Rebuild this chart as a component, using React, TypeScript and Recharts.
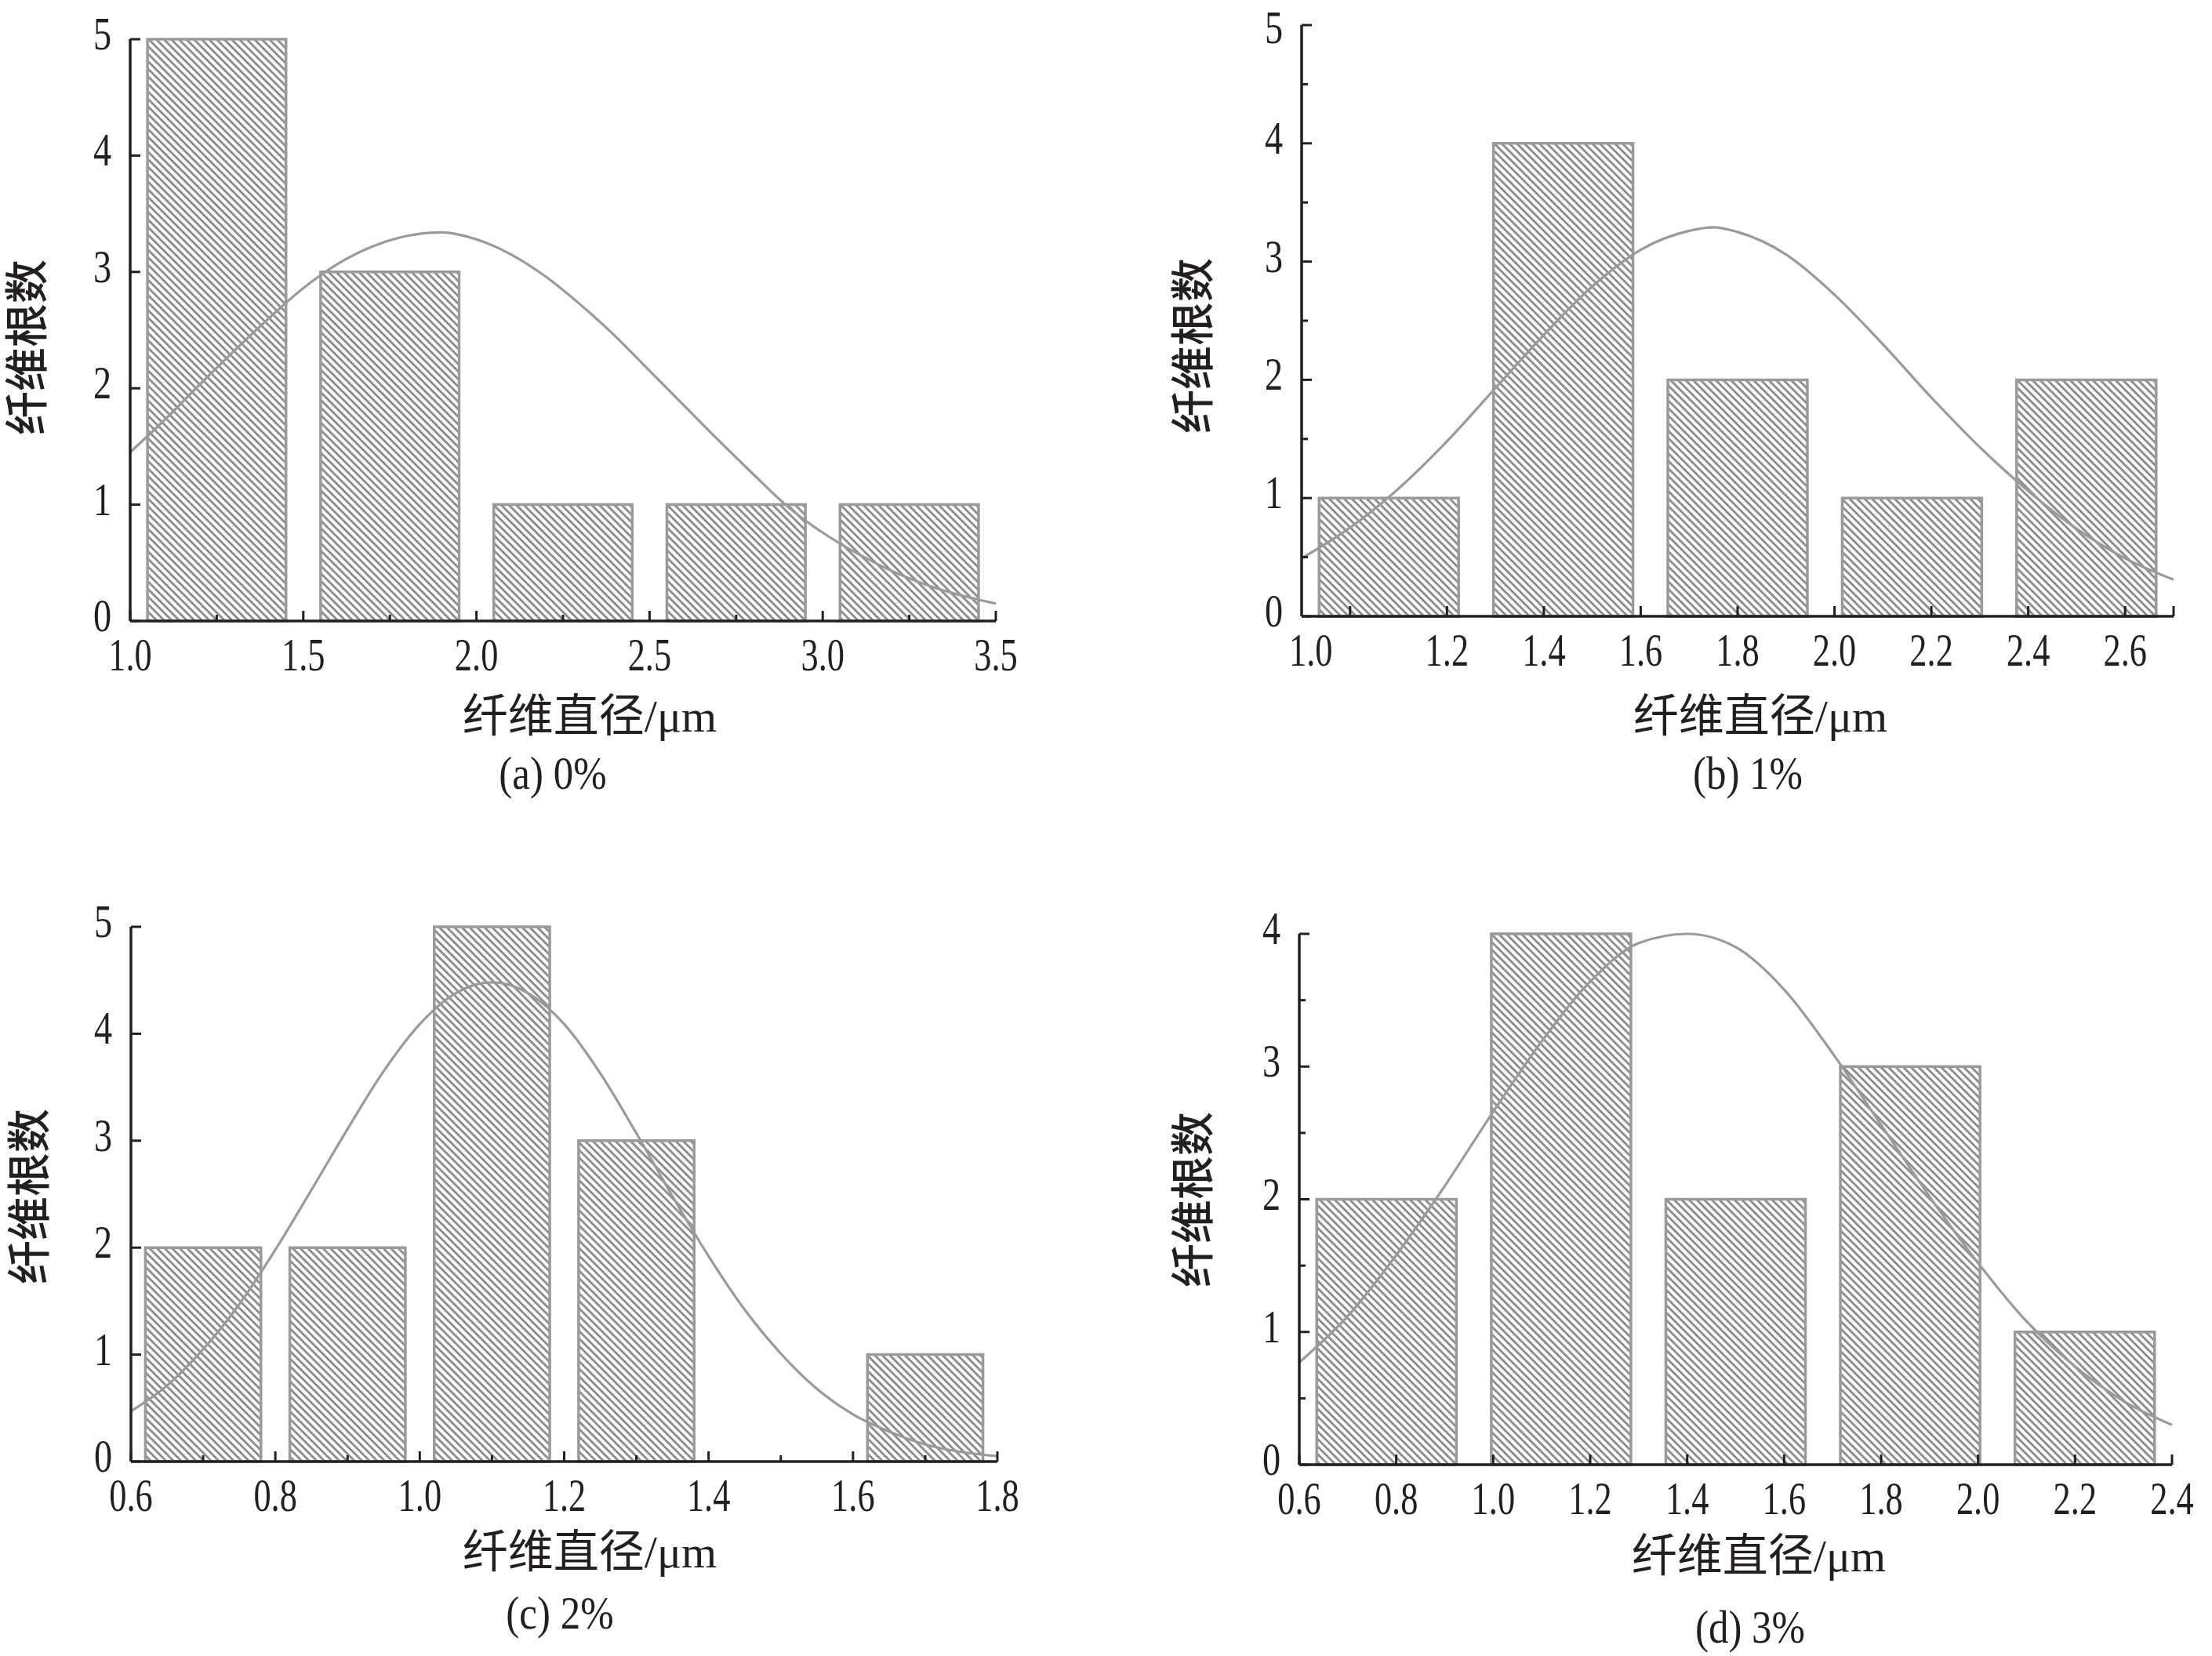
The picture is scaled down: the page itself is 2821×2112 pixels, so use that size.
import React from 'react';
import { ComposedChart, Line, XAxis, YAxis, ReferenceArea } from 'recharts';

// ---- (a) 0% ----
const A_BIN_CENTERS = [1.25, 1.75, 2.25, 2.75, 3.25];
const A_COUNTS = [5, 3, 1, 1, 1];
const A_BIN_WIDTH = 0.5;
const A_CURVE_X = [1.0, 1.1, 1.2, 1.3, 1.4, 1.5, 1.6, 1.7, 1.8, 1.9, 2.0, 2.1, 2.2, 2.3, 2.4, 2.5, 2.6, 2.7, 2.8, 2.9, 3.0, 3.1, 3.2, 3.3, 3.4, 3.5];
const A_CURVE_Y = [1.45, 1.73, 2.03, 2.32, 2.6, 2.86, 3.07, 3.22, 3.31, 3.34, 3.28, 3.15, 2.96, 2.72, 2.45, 2.15, 1.85, 1.55, 1.26, 0.98, 0.76, 0.58, 0.43, 0.31, 0.22, 0.15];
const A_X_MAJOR = [1.0, 1.5, 2.0, 2.5, 3.0, 3.5];
const A_X_LABELS = ['1.0', '1.5', '2.0', '2.5', '3.0', '3.5'];
const A_X_MINOR = [1.25, 1.75, 2.25, 2.75, 3.25];
const A_Y_MAJOR = [0, 1, 2, 3, 4, 5];
const A_Y_LABELS = ['0', '1', '2', '3', '4', '5'];
const A_Y_MINOR: number[] = [];

// ---- (b) 1% ----
const B_BIN_CENTERS = [1.08, 1.44, 1.8, 2.16, 2.52];
const B_COUNTS = [1, 4, 2, 1, 2];
const B_BIN_WIDTH = 0.36;
const B_CURVE_X = [0.9, 1.0, 1.1, 1.2, 1.3, 1.4, 1.5, 1.6, 1.7, 1.75, 1.8, 1.9, 2.0, 2.1, 2.2, 2.3, 2.4, 2.5, 2.6, 2.7];
const B_CURVE_Y = [0.49, 0.75, 1.08, 1.48, 1.93, 2.38, 2.79, 3.1, 3.26, 3.29, 3.25, 3.06, 2.72, 2.3, 1.85, 1.43, 1.06, 0.74, 0.49, 0.31];
const B_X_MAJOR = [1.0, 1.2, 1.4, 1.6, 1.8, 2.0, 2.2, 2.4, 2.6, 2.7];
const B_X_LABELS = ['1.0', '1.2', '1.4', '1.6', '1.8', '2.0', '2.2', '2.4', '2.6', ''];
const B_X_MINOR: number[] = [];
const B_Y_MAJOR = [0, 1, 2, 3, 4, 5];
const B_Y_LABELS = ['0', '1', '2', '3', '4', '5'];
const B_Y_MINOR = [0.5, 1.5, 2.5, 3.5, 4.5];

// ---- (c) 2% ----
const C_BIN_CENTERS = [0.7, 0.9, 1.1, 1.3, 1.5, 1.7];
const C_COUNTS = [2, 2, 5, 3, 0, 1];
const C_BIN_WIDTH = 0.2;
const C_CURVE_X = [0.6, 0.65, 0.7, 0.75, 0.8, 0.85, 0.9, 0.95, 1.0, 1.05, 1.1, 1.15, 1.2, 1.25, 1.3, 1.35, 1.4, 1.45, 1.5, 1.55, 1.6, 1.65, 1.7, 1.75, 1.8];
const C_CURVE_Y = [0.47, 0.71, 1.05, 1.47, 1.98, 2.54, 3.11, 3.65, 4.09, 4.38, 4.48, 4.38, 4.09, 3.63, 3.07, 2.48, 1.92, 1.42, 1.01, 0.68, 0.44, 0.28, 0.16, 0.09, 0.05];
const C_X_MAJOR = [0.6, 0.8, 1.0, 1.2, 1.4, 1.6, 1.8];
const C_X_LABELS = ['0.6', '0.8', '1.0', '1.2', '1.4', '1.6', '1.8'];
const C_X_MINOR = [0.7, 0.9, 1.1, 1.3, 1.5, 1.7];
const C_Y_MAJOR = [0, 1, 2, 3, 4, 5];
const C_Y_LABELS = ['0', '1', '2', '3', '4', '5'];
const C_Y_MINOR: number[] = [];

// ---- (d) 3% ----
const D_BIN_CENTERS = [0.78, 1.14, 1.5, 1.86, 2.22];
const D_COUNTS = [2, 4, 2, 3, 1];
const D_BIN_WIDTH = 0.36;
const D_CURVE_X = [0.6, 0.7, 0.8, 0.9, 1.0, 1.1, 1.2, 1.3, 1.4, 1.5, 1.6, 1.7, 1.8, 1.9, 2.0, 2.1, 2.2, 2.3, 2.4];
const D_CURVE_Y = [0.77, 1.12, 1.58, 2.1, 2.66, 3.19, 3.64, 3.93, 4.0, 3.9, 3.58, 3.1, 2.56, 2.02, 1.52, 1.08, 0.74, 0.48, 0.3];
const D_X_MAJOR = [0.6, 0.8, 1.0, 1.2, 1.4, 1.6, 1.8, 2.0, 2.2, 2.4];
const D_X_LABELS = ['0.6', '0.8', '1.0', '1.2', '1.4', '1.6', '1.8', '2.0', '2.2', '2.4'];
const D_X_MINOR: number[] = [];
const D_Y_MAJOR = [0, 1, 2, 3, 4];
const D_Y_LABELS = ['0', '1', '2', '3', '4'];
const D_Y_MINOR = [0.5, 1.5, 2.5, 3.5];

const X_TITLE = '纤维直径/μm';
const Y_TITLE = '纤维根数';

const AXIS = '#231f20';
const GRAY = '#9a9a9a';
const HATCH = '#8e8e8e';
const SERIF = '"Liberation Serif", "Times New Roman", serif';
const CJK = '"Liberation Serif", "Noto Sans CJK SC", sans-serif';
const BAR_FRAC = 0.8;
const X_AXIS_H = 200;
const Y_AXIS_W = 2;

const panels = [
  {
    id: 'a', caption: '(a) 0%',
    centers: A_BIN_CENTERS, counts: A_COUNTS, binWidth: A_BIN_WIDTH,
    curveX: A_CURVE_X, curveY: A_CURVE_Y,
    xMajor: A_X_MAJOR, xLabels: A_X_LABELS, xMinor: A_X_MINOR,
    yMajor: A_Y_MAJOR, yLabels: A_Y_LABELS, yMinor: A_Y_MINOR,
    xDomain: [1.0, 3.5], yDomain: [0, 5],
    box: { left: 0, top: 0, width: 1410, height: 1060 },
    plot: { left: 166, right: 1270, top: 50, bottom: 792 },
    xTitle: [752, 914], capPos: [705, 986], yTitle: [35, 443], firstShift: 0,
  },
  {
    id: 'b', caption: '(b) 1%',
    centers: B_BIN_CENTERS, counts: B_COUNTS, binWidth: B_BIN_WIDTH,
    curveX: B_CURVE_X, curveY: B_CURVE_Y,
    xMajor: B_X_MAJOR, xLabels: B_X_LABELS, xMinor: B_X_MINOR,
    yMajor: B_Y_MAJOR, yLabels: B_Y_LABELS, yMinor: B_Y_MINOR,
    xDomain: [0.9, 2.7], yDomain: [0, 5],
    box: { left: 1410, top: 0, width: 1411, height: 1060 },
    plot: { left: 1660, right: 2772, top: 32, bottom: 786 },
    xTitle: [2245, 914], capPos: [2229, 986], yTitle: [1522, 441], firstShift: -50,
  },
  {
    id: 'c', caption: '(c) 2%',
    centers: C_BIN_CENTERS, counts: C_COUNTS, binWidth: C_BIN_WIDTH,
    curveX: C_CURVE_X, curveY: C_CURVE_Y,
    xMajor: C_X_MAJOR, xLabels: C_X_LABELS, xMinor: C_X_MINOR,
    yMajor: C_Y_MAJOR, yLabels: C_Y_LABELS, yMinor: C_Y_MINOR,
    xDomain: [0.6, 1.8], yDomain: [0, 5],
    box: { left: 0, top: 1060, width: 1410, height: 1052 },
    plot: { left: 167, right: 1272, top: 1182, bottom: 1864 },
    xTitle: [752, 1980], capPos: [714, 2057], yTitle: [38, 1526], firstShift: 0,
  },
  {
    id: 'd', caption: '(d) 3%',
    centers: D_BIN_CENTERS, counts: D_COUNTS, binWidth: D_BIN_WIDTH,
    curveX: D_CURVE_X, curveY: D_CURVE_Y,
    xMajor: D_X_MAJOR, xLabels: D_X_LABELS, xMinor: D_X_MINOR,
    yMajor: D_Y_MAJOR, yLabels: D_Y_LABELS, yMinor: D_Y_MINOR,
    xDomain: [0.6, 2.4], yDomain: [0, 4],
    box: { left: 1410, top: 1060, width: 1411, height: 1052 },
    plot: { left: 1657, right: 2770, top: 1191, bottom: 1868 },
    xTitle: [2243, 1985], capPos: [2232, 2075], yTitle: [1522, 1530], firstShift: 0,
  },
];

const findIdx = (arr: number[], v: number) => arr.findIndex((m) => Math.abs(m - v) < 1e-9);

const xTick = (p: any) => (props: any) => {
  const { x, y, payload } = props;
  const i = findIdx(p.xMajor, payload.value);
  const major = i >= 0;
  const label = major ? p.xLabels[i] : '';
  const dx = i === 0 ? p.firstShift : 0;
  return (
    <g>
      <line x1={x} y1={y} x2={x} y2={y - (major ? 13 : 8)} stroke={AXIS} strokeWidth={3} />
      {label && (
        <text transform={`translate(${x + dx},${y + 63}) scale(0.74,1)`} textAnchor="middle"
          fontFamily={SERIF} fontSize={60} fill={AXIS}>{label}</text>
      )}
    </g>
  );
};

const yTick = (p: any) => (props: any) => {
  const { x, y, payload } = props;
  const i = findIdx(p.yMajor, payload.value);
  const major = i >= 0;
  const label = major ? p.yLabels[i] : '';
  // keep the top label's text box inside the picture
  const base = Math.max(y + 13, 55);
  return (
    <g>
      <line x1={x} y1={y} x2={x + (major ? 13 : 8)} y2={y} stroke={AXIS} strokeWidth={3} />
      {label && (
        <text transform={`translate(${x - 24},${base}) scale(0.77,1)`} textAnchor="end"
          fontFamily={SERIF} fontSize={60} fill={AXIS}>{label}</text>
      )}
    </g>
  );
};

function Panel({ p }: { p: any }) {
  const data = p.curveX.map((x: number, i: number) => ({ x, y: p.curveY[i] }));
  const xTicks = [...p.xMajor, ...p.xMinor].sort((a, b) => a - b);
  const yTicks = [...p.yMajor, ...p.yMinor].sort((a, b) => a - b);
  const margin = {
    left: p.plot.left - p.box.left - Y_AXIS_W,
    right: p.box.left + p.box.width - p.plot.right,
    top: p.plot.top - p.box.top,
    bottom: p.box.top + p.box.height - p.plot.bottom - X_AXIS_H,
  };
  const half = (p.binWidth * BAR_FRAC) / 2;
  return (
    <div style={{ position: 'absolute', left: p.box.left, top: p.box.top }}>
      <ComposedChart width={p.box.width} height={p.box.height} data={data} margin={margin}>
        <XAxis dataKey="x" type="number" domain={p.xDomain} ticks={xTicks} interval={0}
          height={X_AXIS_H} tickSize={0} tickMargin={0} tickLine={false}
          axisLine={{ stroke: AXIS, strokeWidth: 3.5 }} tick={xTick(p)} />
        <YAxis type="number" domain={p.yDomain} ticks={yTicks} interval={0}
          width={Y_AXIS_W} tickSize={0} tickMargin={0} tickLine={false}
          axisLine={{ stroke: AXIS, strokeWidth: 3.5 }} tick={yTick(p)} />
        {p.centers.map((c: number, i: number) =>
          p.counts[i] > 0 ? (
            <ReferenceArea key={i} x1={c - half} x2={c + half} y1={0} y2={p.counts[i]}
              fill="url(#hatch)" fillOpacity={1} stroke={GRAY} strokeWidth={3.5} ifOverflow="visible" />
          ) : null
        )}
        <Line dataKey="y" type="monotone" stroke={GRAY} strokeWidth={3.2} dot={false}
          activeDot={false} isAnimationActive={false} />
      </ComposedChart>
    </div>
  );
}

const textBase: React.CSSProperties = {
  position: 'absolute', whiteSpace: 'nowrap', lineHeight: 1, color: AXIS,
};

export default function App() {
  return (
    <div style={{ position: 'absolute', left: 0, top: 0, width: 2821, height: 2112, background: '#fff', overflow: 'hidden' }}>
      <svg width={0} height={0} style={{ position: 'absolute' }}>
        <defs>
          <pattern id="hatch" patternUnits="userSpaceOnUse" width={6.8} height={6.8} patternTransform="rotate(-45)">
            <rect width={6.8} height={6.8} fill="#fff" />
            <line x1={3.4} y1={0} x2={3.4} y2={6.8} stroke={HATCH} strokeWidth={2.9} />
          </pattern>
        </defs>
      </svg>
      {panels.map((p) => (
        <React.Fragment key={p.id}>
          <Panel p={p} />
          <div style={{ ...textBase, left: p.xTitle[0], top: p.xTitle[1], fontFamily: CJK, fontSize: 58,
            transform: 'translate(-50%, -50%)' }}>{X_TITLE}</div>
          <div style={{ ...textBase, left: p.capPos[0], top: p.capPos[1], fontFamily: SERIF, fontSize: 60,
            transform: 'translate(-50%, -50%) scaleX(0.85)' }}>{p.caption}</div>
          <div style={{ ...textBase, left: p.yTitle[0], top: p.yTitle[1], fontFamily: CJK, fontSize: 56,
            fontWeight: 500, transform: 'translate(-50%, -50%) rotate(-90deg)' }}>{Y_TITLE}</div>
        </React.Fragment>
      ))}
    </div>
  );
}
